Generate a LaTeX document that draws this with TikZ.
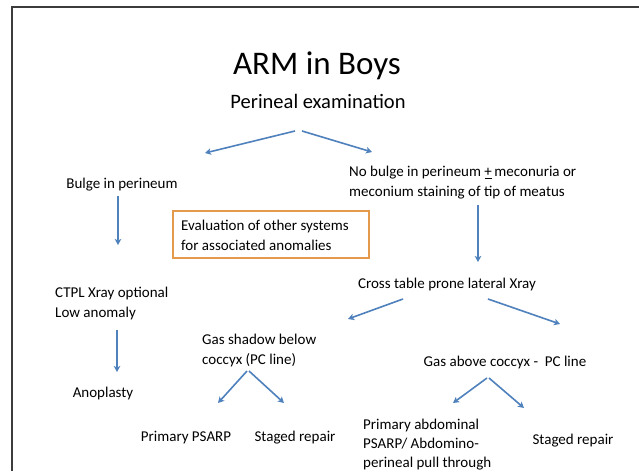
\documentclass[tikz,border=0pt]{standalone}
\usepackage{fontspec}
\setmainfont{Carlito}
\usetikzlibrary{arrows.meta}
\definecolor{arrowblue}{RGB}{79,129,189}
\definecolor{boxorange}{RGB}{228,154,76}
\definecolor{framegray}{RGB}{60,60,60}
\tikzset{
  txt/.style={inner sep=0pt, font=\fontsize{15}{19.2}\selectfont, align=left},
  arr/.style={draw=arrowblue, line width=1.6pt, -{Stealth[length=6pt,width=6.5pt,inset=1.5pt]}},
  evalbox/.style={draw=boxorange, line width=1.6pt, inner sep=0pt}
}
\begin{document}
\begin{tikzpicture}[x=1pt,y=-1pt]
\useasboundingbox (0,0) rectangle (639,471);
\fill[white] (0,0) rectangle (639,471);
\draw[framegray, line width=2pt] (12,471) -- (12,6.5) -- (639,6.5);

\node[inner sep=0pt, font=\fontsize{33}{36}\selectfont, anchor=base] (title) at (317,74) {ARM in Boys};
\node[inner sep=0pt, font=\fontsize{20.5}{24}\selectfont, anchor=base] (peri) at (318,108) {Perineal examination};

\node[txt, anchor=base] (bulge) at (122,188) {Bulge in perineum};
\node[txt, anchor=base west] (nobulge) at (349,196) {No bulge in perineum \underline{+}\,meconuria or\\meconium staining of tip of meatus};
\draw[evalbox] (173,211) rectangle (369,258);
\node[txt, anchor=base west] (eval) at (181,250) {Evaluation of other systems\\for associated anomalies};
\node[txt, anchor=base] (cross) at (447,288) {Cross table prone lateral Xray};
\node[txt, anchor=base west] (ctpl) at (55,317) {CTPL Xray optional\\Low anomaly};
\node[txt, anchor=base west] (gasbelow) at (202,364) {Gas shadow below\\coccyx (PC line)};
\node[txt, anchor=base] (gasabove) at (505,366) {Gas above coccyx -\ \ PC line};
\node[txt, anchor=base] (anop) at (103,397) {Anoplasty};
\node[txt, anchor=base] (ppsarp) at (186,441) {Primary PSARP};
\node[txt, anchor=base] (staged1) at (295,441) {Staged repair};
\node[txt, anchor=base west] (pabd) at (363,467.5) {Primary abdominal\\PSARP/ Abdomino-\\perineal pull through};
\node[txt, anchor=base] (staged2) at (573,444) {Staged repair};

\coordinate (p1) at (295,131);
\coordinate (p2) at (302,131);
\draw[arr] (p1) -- (205,153) coordinate (bulgein);
\draw[arr] (p2) -- (372,152) coordinate (nobulgein);
\draw[arr] (118,196) coordinate (b1) -- (118,245) coordinate (ctplin);
\draw[arr] (478,205) coordinate (n1) -- (478,262) coordinate (crossin);
\draw[arr] (117,330) coordinate (c1) -- (117,372) coordinate (anopin);
\draw[arr] (403,299) coordinate (x1) -- (348,319) coordinate (gbin);
\draw[arr] (488,299) coordinate (x2) -- (560,324) coordinate (gain);
\draw[arr] (247,371) coordinate (g1) -- (218,403) coordinate (ppin);
\draw[arr] (249,371) coordinate (g2) -- (284,403) coordinate (s1in);
\draw[arr] (487,378) coordinate (h1) -- (453,403) coordinate (pain);
\draw[arr] (489,378) coordinate (h2) -- (524,408) coordinate (s2in);
\end{tikzpicture}
\end{document}
